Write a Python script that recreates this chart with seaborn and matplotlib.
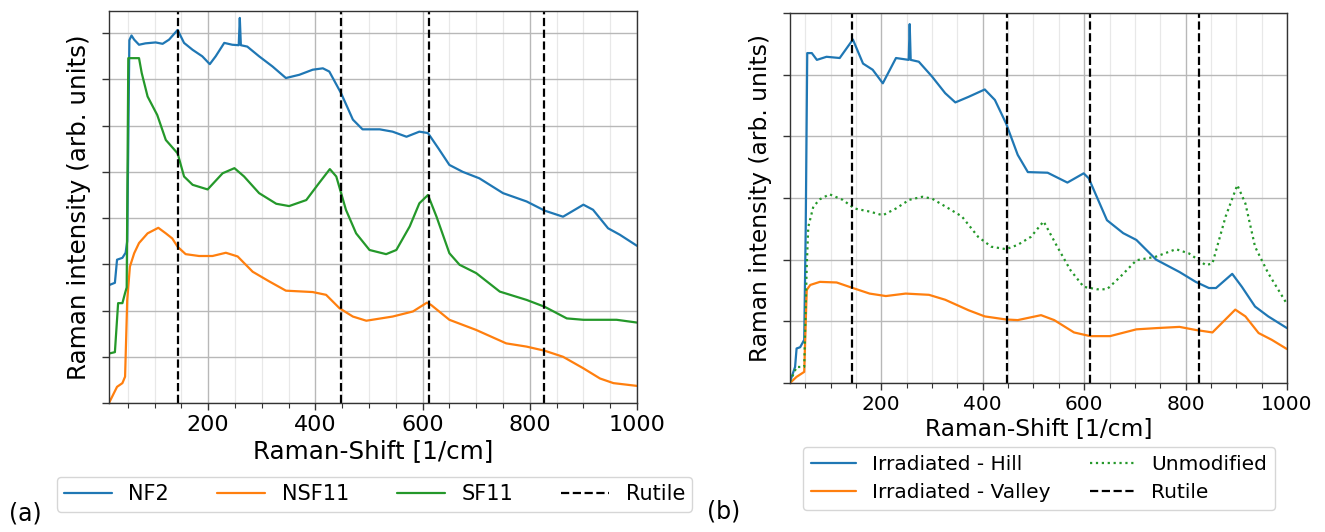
import numpy as np
import pandas as pd
import matplotlib
matplotlib.use("Agg")
import matplotlib.pyplot as plt
import seaborn as sns
from matplotlib.ticker import MultipleLocator

# ---------------- data (a) ----------------
nf2_x = [15, 26, 30, 40, 46, 49, 53, 57, 62, 71, 83, 102, 115, 127, 143, 155, 171, 189, 203, 214,
         230, 245, 257, 259, 261, 273, 295, 320, 345, 370, 395, 414, 426, 448, 470, 488, 520, 544, 570, 594,
         610, 630, 650, 675, 706, 750, 794, 828, 862, 900, 918, 946, 968, 1000]
nf2_y = [2.55, 2.6, 3.1, 3.14, 3.25, 3.5, 7.85, 7.95, 7.86, 7.75, 7.78, 7.8, 7.77, 7.86, 8.07, 7.79, 7.64, 7.5, 7.33, 7.5,
         7.79, 7.75, 7.74, 8.33, 7.74, 7.71, 7.5, 7.28, 7.03, 7.1, 7.21, 7.24, 7.17, 6.7, 6.13, 5.92, 5.92, 5.87, 5.76, 5.87,
         5.84, 5.5, 5.15, 5.0, 4.86, 4.54, 4.36, 4.16, 4.03, 4.29, 4.18, 3.78, 3.64, 3.4]

nsf11_x = [15, 30, 40, 45, 49, 54, 62, 71, 87, 107, 121, 133, 143, 158, 183, 208, 233, 255, 283, 314,
           345, 395, 420, 445, 470, 495, 544, 582, 608, 616, 650, 700, 756, 794, 828, 862, 900, 931, 956, 1000]
nsf11_y = [0.0, 0.35, 0.43, 0.57, 2.23, 2.95, 3.24, 3.46, 3.67, 3.79, 3.67, 3.56, 3.38, 3.22, 3.18, 3.18, 3.25, 3.17, 2.84, 2.63,
           2.43, 2.4, 2.34, 2.05, 1.87, 1.78, 1.87, 1.98, 2.17, 2.12, 1.8, 1.58, 1.29, 1.22, 1.13, 1.0, 0.75, 0.53, 0.43, 0.37]

sf11_x = [15, 26, 32, 40, 45, 48, 51, 71, 76, 87, 105, 121, 143, 155, 171, 199, 227, 249, 267, 295,
          327, 351, 383, 407, 427, 439, 457, 476, 501, 532, 551, 576, 594, 610, 626, 650, 669, 700, 744, 794,
          828, 869, 900, 962, 1000]
sf11_y = [1.07, 1.1, 2.16, 2.16, 2.38, 2.5, 7.46, 7.46, 7.14, 6.63, 6.23, 5.69, 5.4, 4.9, 4.72, 4.62, 4.97, 5.08, 4.9, 4.54,
          4.31, 4.26, 4.39, 4.76, 5.06, 4.9, 4.18, 3.67, 3.31, 3.22, 3.31, 3.82, 4.32, 4.5, 4.03, 3.24, 2.99, 2.81, 2.41, 2.23,
          2.08, 1.83, 1.8, 1.8, 1.74]

# ---------------- data (b) ----------------
hill_x = [20, 30, 33, 40, 48, 51, 54, 63, 73, 92, 118, 144, 164, 183, 203, 229, 254, 256, 258, 274,
          300, 326, 346, 372, 404, 424, 446, 469, 489, 528, 567, 599, 609, 645, 677, 703, 742, 788, 820, 846,
          860, 892, 911, 937, 963, 1000]
hill_y = [0.02, 0.26, 0.56, 0.58, 0.7, 2.5, 5.35, 5.35, 5.24, 5.29, 5.27, 5.57, 5.18, 5.08, 4.86, 5.27, 5.24, 5.82, 5.24, 5.21,
          4.97, 4.7, 4.55, 4.64, 4.76, 4.59, 4.21, 3.7, 3.42, 3.41, 3.25, 3.4, 3.32, 2.64, 2.43, 2.32, 2.0, 1.8, 1.64, 1.54,
          1.54, 1.77, 1.56, 1.24, 1.08, 0.89]

valley_x = [20, 33, 48, 53, 60, 79, 112, 144, 177, 209, 248, 294, 326, 372, 404, 446, 469, 515, 541, 580,
            612, 651, 703, 742, 788, 820, 853, 898, 918, 944, 970, 1000]
valley_y = [0.0, 0.1, 0.18, 1.51, 1.59, 1.64, 1.63, 1.54, 1.45, 1.41, 1.45, 1.43, 1.35, 1.18, 1.08, 1.03, 1.02, 1.1, 1.02, 0.82,
            0.76, 0.76, 0.87, 0.89, 0.91, 0.86, 0.82, 1.19, 1.08, 0.81, 0.7, 0.55]

unmod_x = [20, 33, 48, 53, 56, 66, 79, 98, 124, 147, 177, 203, 229, 255, 281, 300, 333, 359, 391, 417,
           446, 469, 495, 520, 528, 547, 573, 599, 625, 645, 671, 703, 742, 781, 807, 840, 853, 879, 902, 918,
           937, 963, 1000]
unmod_y = [0.02, 0.26, 0.26, 1.89, 2.53, 2.86, 2.98, 3.06, 2.97, 2.83, 2.78, 2.72, 2.83, 2.97, 3.02, 2.99, 2.83, 2.7, 2.37, 2.21,
           2.17, 2.24, 2.37, 2.62, 2.5, 2.21, 1.83, 1.56, 1.52, 1.52, 1.72, 1.99, 2.05, 2.17, 2.1, 1.91, 1.94, 2.7, 3.21, 2.91,
           2.21, 1.78, 1.28]

rutile_x = [143, 447, 612, 826]

labels_a = ["NF2", "NSF11", "SF11", "Rutile"]
labels_b = ["Irradiated - Hill", "Irradiated - Valley", "Unmodified", "Rutile"]
xlabel = "Raman-Shift [1/cm]"
ylabel = "Raman intensity (arb. units)"

BLUE, ORANGE, GREEN = "#1f77b4", "#ff7f0e", "#24982a"

sns.set_style("ticks")
plt.rcParams["font.family"] = ["DejaVu Sans"]
for k in ("text.color", "axes.labelcolor", "xtick.color", "ytick.color"):
    plt.rcParams[k] = "black"

W, H = 1325, 532
fig = plt.figure(figsize=(W / 100, H / 100), dpi=100)
axL = fig.add_axes([109 / W, 1 - 403 / H, 528 / W, 392 / H])
axR = fig.add_axes([790 / W, 1 - 383 / H, 497 / W, 370 / H])


def style(ax, xlim, ylim, tick_fs, label_fs):
    ax.set_xlim(*xlim)
    ax.set_ylim(*ylim)
    ax.xaxis.set_major_locator(MultipleLocator(200))
    ax.xaxis.set_minor_locator(MultipleLocator(50))
    ax.yaxis.set_major_locator(MultipleLocator(1))
    ax.set_axisbelow(True)
    ax.grid(which="major", axis="both", color="#b8b8b8", lw=1.0)
    ax.grid(which="minor", axis="x", color="#e8e8e8", lw=0.9)
    ax.tick_params(axis="both", which="major", direction="out", length=5, width=1.0,
                   labelsize=tick_fs, color="#333333", labelcolor="black")
    ax.tick_params(axis="x", which="minor", direction="out", length=3.5, width=0.8, color="#333333")
    ax.tick_params(axis="y", labelleft=False)
    for s in ax.spines.values():
        s.set_visible(True)
        s.set_color("#333333")
        s.set_linewidth(1.0)
    ax.set_xlabel(xlabel, fontsize=label_fs, labelpad=3, color="black")
    ax.set_ylabel(ylabel, fontsize=label_fs, labelpad=8, color="black")


LW = 1.6
# panel (a)
sns.lineplot(x=nf2_x, y=nf2_y, ax=axL, color=BLUE, lw=LW, label=labels_a[0], sort=False, estimator=None)
sns.lineplot(x=nsf11_x, y=nsf11_y, ax=axL, color=ORANGE, lw=LW, label=labels_a[1], sort=False, estimator=None)
sns.lineplot(x=sf11_x, y=sf11_y, ax=axL, color=GREEN, lw=LW, label=labels_a[2], sort=False, estimator=None)
for i, r in enumerate(rutile_x):
    axL.axvline(r, color="black", ls="--", lw=1.6, label=labels_a[3] if i == 0 else None)
style(axL, (15, 1000), (0, 8.48), 16, 17.7)

# panel (b)
sns.lineplot(x=hill_x, y=hill_y, ax=axR, color=BLUE, lw=LW, label=labels_b[0], sort=False, estimator=None)
sns.lineplot(x=valley_x, y=valley_y, ax=axR, color=ORANGE, lw=LW, label=labels_b[1], sort=False, estimator=None)
sns.lineplot(x=unmod_x, y=unmod_y, ax=axR, color=GREEN, lw=LW, ls=":", label=labels_b[2], sort=False, estimator=None)
for i, r in enumerate(rutile_x):
    axR.axvline(r, color="black", ls="--", lw=1.6, label=labels_b[3] if i == 0 else None)
style(axR, (20, 1000), (0, 6), 14.5, 16.8)

hL, lL = axL.get_legend_handles_labels()
hR, lR = axR.get_legend_handles_labels()
for ax in (axL, axR):
    if ax.get_legend() is not None:
        ax.get_legend().remove()

fig.legend(hL, lL, loc="upper center", bbox_to_anchor=(374.5 / W, 1 - 477 / H), ncol=4,
           fontsize=15, handlelength=2.3, columnspacing=2.3, borderpad=0.35, borderaxespad=0)
fig.legend(hR, lR, loc="upper center", bbox_to_anchor=(1039 / W, 1 - 447 / H), ncol=2,
           fontsize=14.5, handlelength=2.2, columnspacing=2.0, borderpad=0.4, labelspacing=0.45,
           borderaxespad=0)

fig.text(25 / W, 1 - 513 / H, "(a)", fontsize=17, ha="center", va="center")
fig.text(724 / W, 1 - 512 / H, "(b)", fontsize=17, ha="center", va="center")

fig.savefig("out.png", dpi=100)
